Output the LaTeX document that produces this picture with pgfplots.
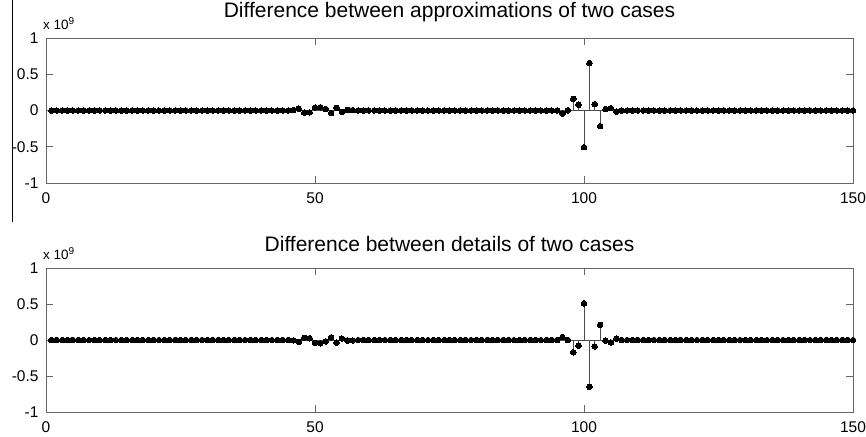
\documentclass[border=0pt]{standalone}
\usepackage{fontspec}
\setmainfont{Liberation Sans}
\usepackage{pgfplots}
\pgfplotsset{compat=1.18}
\usepackage{pgfplotstable}

\pgfplotstableread{
x a d
1 0 0
2 0 0
3 0 0
4 0 0
5 0 0
6 0 0
7 0 0
8 0 0
9 0 0
10 0 0
11 0 0
12 0 0
13 0 0
14 0 0
15 0 0
16 0 0
17 0 0
18 0 0
19 0 0
20 0 0
21 0 0
22 0 0
23 0 0
24 0 0
25 0 0
26 0 0
27 0 0
28 0 0
29 0 0
30 0 0
31 0 0
32 0 0
33 0 0
34 0 0
35 0 0
36 0 0
37 0 0
38 0 0
39 0 0
40 0 0
41 0 0
42 0 0
43 0 0
44 0 0
45 0 0
46 0.005 -0.005
47 0.025 -0.025
48 -0.03 0.03
49 -0.025 0.025
50 0.04 -0.04
51 0.045 -0.045
52 0.02 -0.02
53 -0.035 0.035
54 0.035 -0.035
55 -0.02 0.02
56 0.008 -0.008
57 0.005 -0.005
58 0 0
59 0 0
60 0 0
61 0 0
62 0 0
63 0 0
64 0 0
65 0 0
66 0 0
67 0 0
68 0 0
69 0 0
70 0 0
71 0 0
72 0 0
73 0 0
74 0 0
75 0 0
76 0 0
77 0 0
78 0 0
79 0 0
80 0 0
81 0 0
82 0 0
83 0 0
84 0 0
85 0 0
86 0 0
87 0 0
88 0 0
89 0 0
90 0 0
91 0 0
92 0 0
93 0 0
94 0 0
95 0 0
96 -0.045 0.04
97 0.003 0.0
98 0.16 -0.17
99 0.079 -0.08
100 -0.505 0.51
101 0.654 -0.65
102 0.088 -0.09
103 -0.215 0.21
104 0.019 -0.01
105 0.033 -0.035
106 -0.014 0.02
107 0 0
108 0 0
109 0 0
110 0 0
111 0 0
112 0 0
113 0 0
114 0 0
115 0 0
116 0 0
117 0 0
118 0 0
119 0 0
120 0 0
121 0 0
122 0 0
123 0 0
124 0 0
125 0 0
126 0 0
127 0 0
128 0 0
129 0 0
130 0 0
131 0 0
132 0 0
133 0 0
134 0 0
135 0 0
136 0 0
137 0 0
138 0 0
139 0 0
140 0 0
141 0 0
142 0 0
143 0 0
144 0 0
145 0 0
146 0 0
147 0 0
148 0 0
149 0 0
150 0 0
}\data

\pgfplotsset{mystyle/.style={
  scale only axis, width=807pt,
  xmin=0, xmax=150, ymin=-1, ymax=1,
  clip=false,
  xtick={0,50,100,150}, xticklabels={0,50,100,150},
  ytick={-1,-0.5,0,0.5,1}, yticklabels={-1,-0.5,0,0.5,1},
  tick align=inside, major tick length=7pt,
  axis line style={black!60, line width=0.8pt},
  tick style={black!60, line width=0.8pt},
  ticklabel style={font=\fontsize{15.5}{18}\selectfont, text=black},
  yticklabel style={xshift=-4pt},
  xticklabel style={yshift=-6.5pt},
  title style={at={(0.5,1)}, anchor=base, font=\fontsize{21}{24}\selectfont},
}}

\begin{document}
\begin{tikzpicture}
\begin{axis}[mystyle, height=145pt, at={(46pt,253pt)}, anchor=south west,
  title={Difference between approximations of two cases}, title style={yshift=14pt}]
\addplot[black!70, line width=0.6pt] coordinates {(1,0) (150,0)};
\addplot[ycomb, black!70, line width=0.6pt, mark=*, mark size=2.8pt,
  mark options={fill=black, draw=black, line width=0pt}] table[x=x, y=a] {\data};
\node[anchor=base west, font=\fontsize{13.5}{15}\selectfont, inner sep=0pt]
  at (rel axis cs:0,1) [xshift=-3pt, yshift=8.5pt] {x 10\raisebox{0.7ex}{\fontsize{10}{10}\selectfont 9}};
\end{axis}
\begin{axis}[mystyle, height=144pt, at={(46pt,24pt)}, anchor=south west,
  title={Difference between details of two cases}, title style={yshift=11pt}]
\addplot[black!70, line width=0.6pt] coordinates {(1,0) (150,0)};
\addplot[ycomb, black!70, line width=0.6pt, mark=*, mark size=2.8pt,
  mark options={fill=black, draw=black, line width=0pt}] table[x=x, y=d] {\data};
\node[anchor=base west, font=\fontsize{13.5}{15}\selectfont, inner sep=0pt]
  at (rel axis cs:0,1) [xshift=-3pt, yshift=8.5pt] {x 10\raisebox{0.7ex}{\fontsize{10}{10}\selectfont 9}};
\end{axis}
\draw[line width=1pt] (12pt,436pt) -- (12pt,214pt);
\pgfresetboundingbox
\useasboundingbox (0,0) rectangle (866pt,436pt);
\end{tikzpicture}
\end{document}
